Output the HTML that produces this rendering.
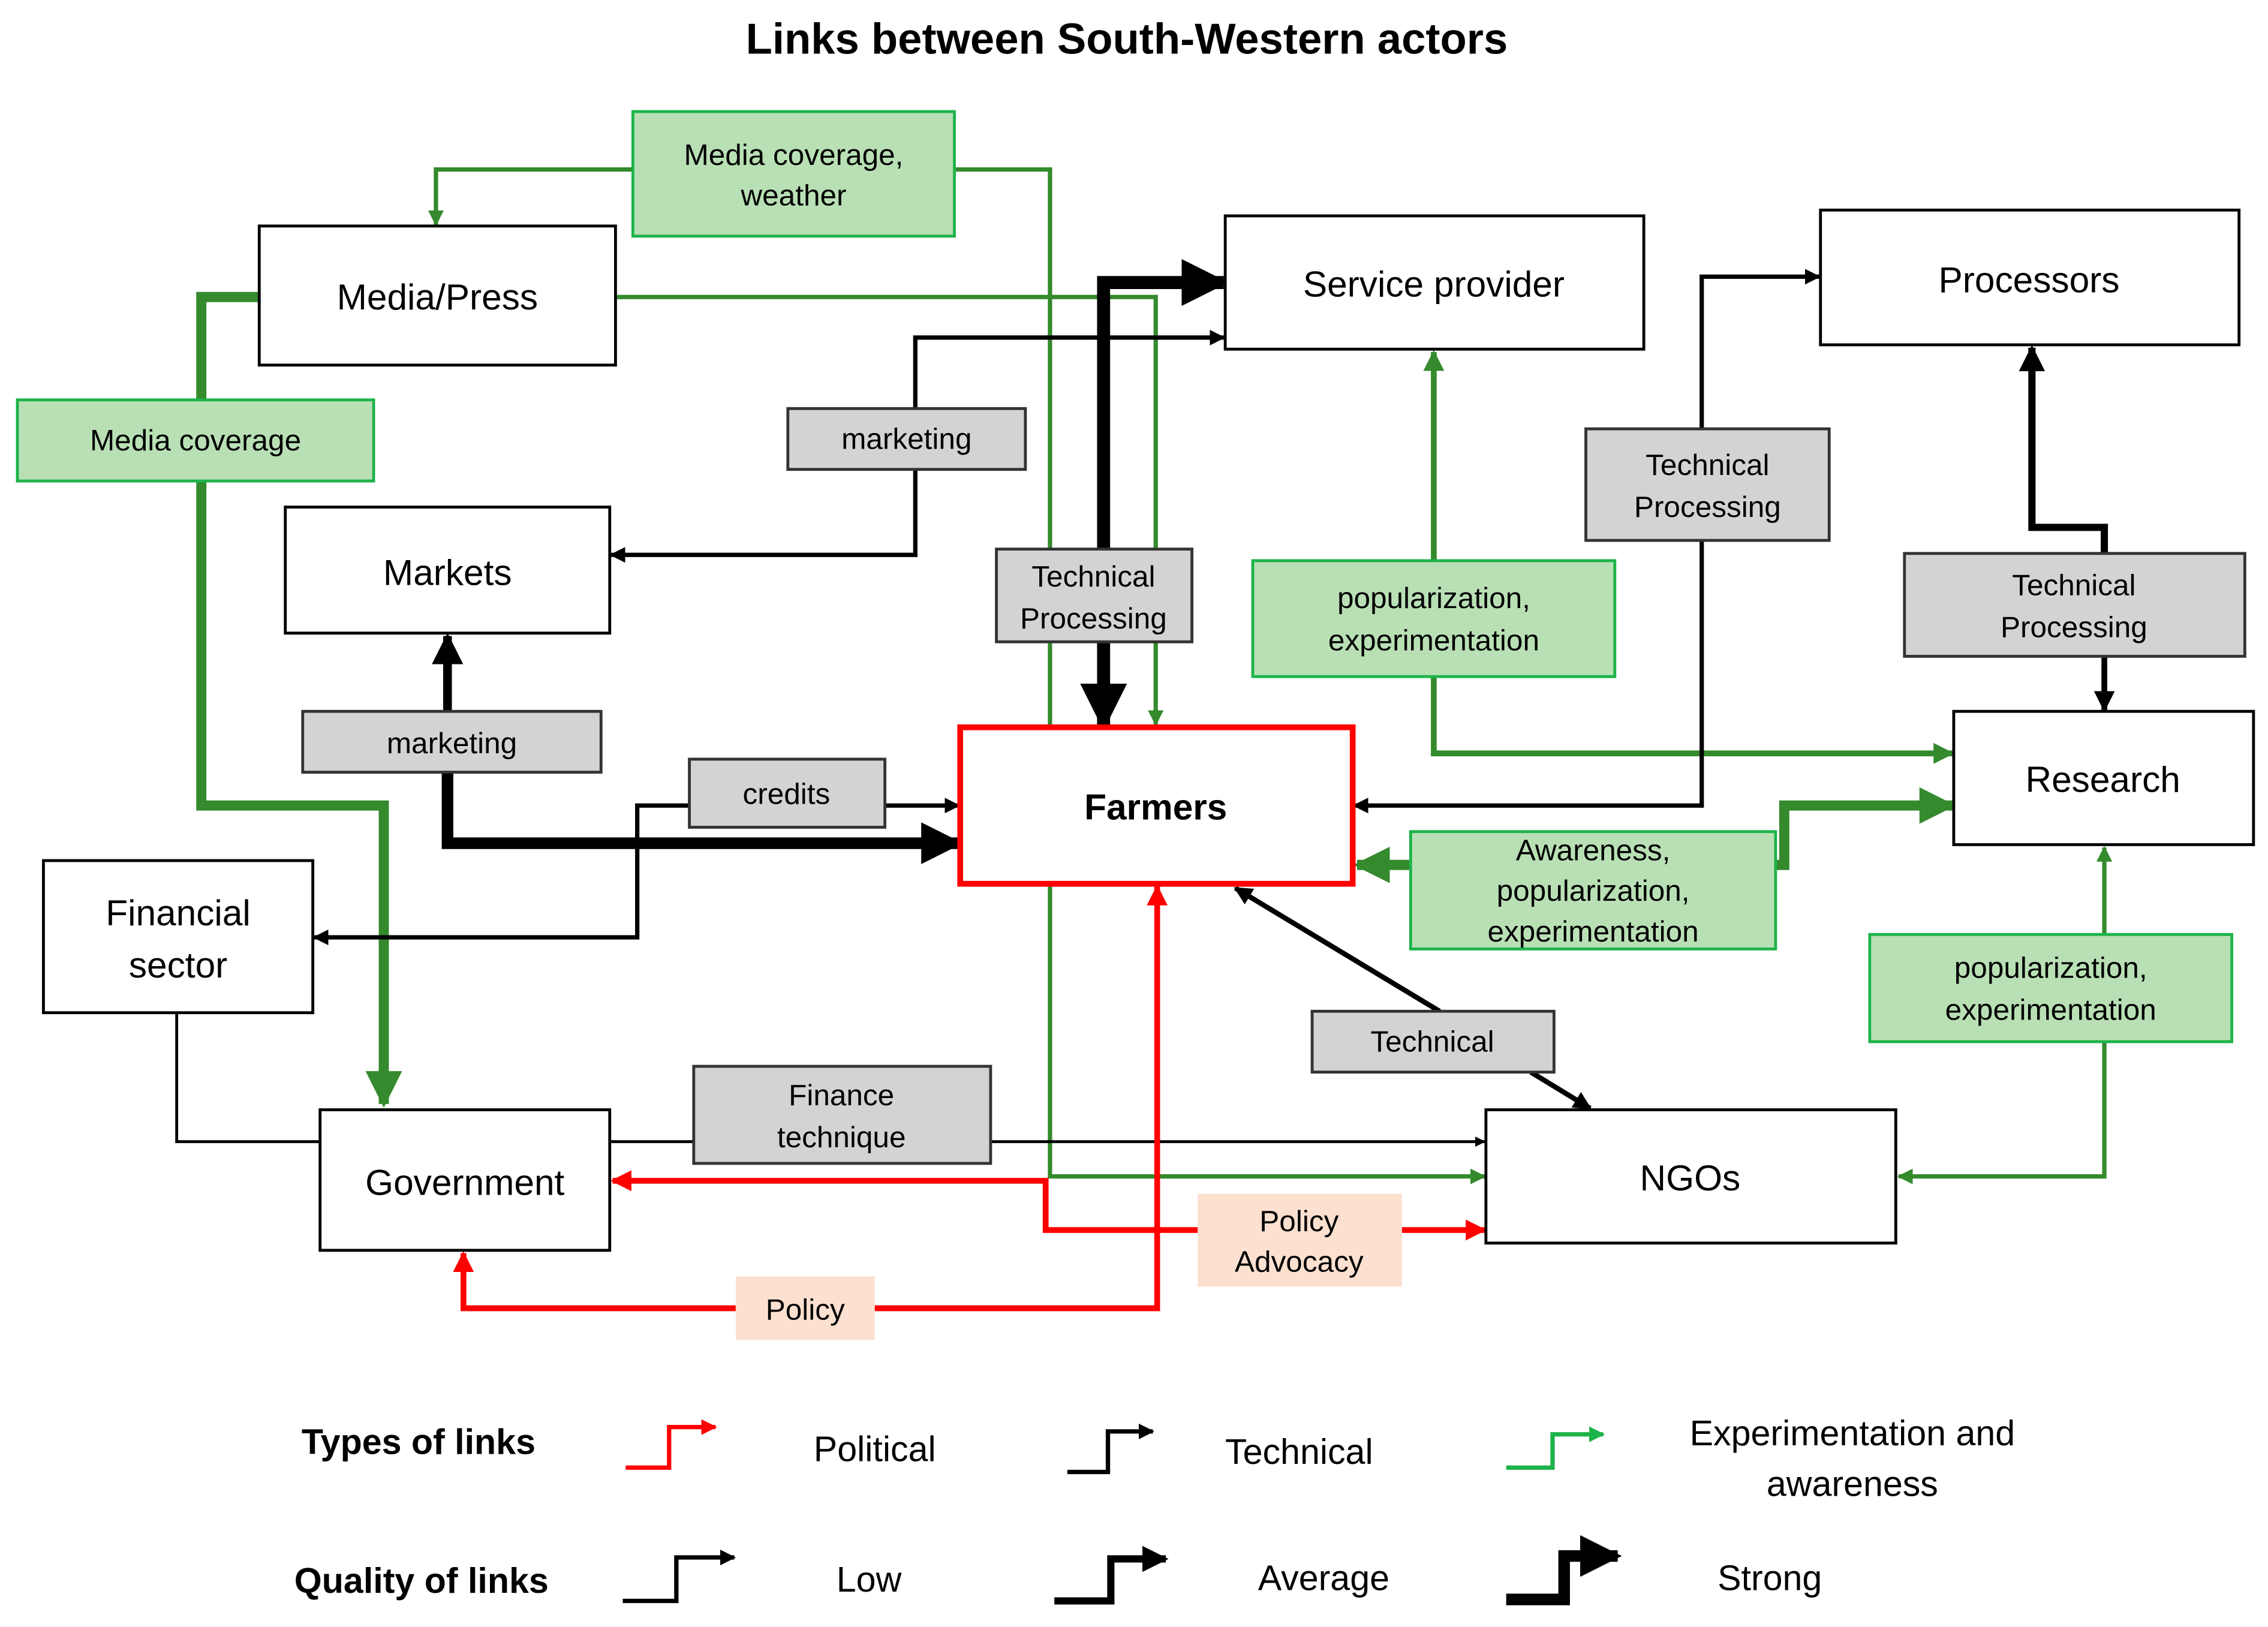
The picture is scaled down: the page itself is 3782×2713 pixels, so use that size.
<!DOCTYPE html>
<html><head><meta charset="utf-8"><style>
html,body{margin:0;padding:0;background:#fff}
svg{display:block}
text{font-family:"Liberation Sans",sans-serif;text-anchor:middle;dominant-baseline:central;fill:#000}
</style></head><body>
<svg width="3782" height="2713" viewBox="0 0 1566 1123" preserveAspectRatio="none" xmlns="http://www.w3.org/2000/svg">
<defs>
<marker id="ak" viewBox="0 0 10 10" refX="9" refY="5" markerWidth="3.6" markerHeight="3.6" orient="auto"><path d="M0,0L10,5L0,10z" fill="#000"/></marker>
<marker id="ar" viewBox="0 0 10 10" refX="9" refY="5" markerWidth="3.6" markerHeight="3.6" orient="auto"><path d="M0,0L10,5L0,10z" fill="#ff0000"/></marker>
<marker id="ag" viewBox="0 0 10 10" refX="9" refY="5" markerWidth="3.6" markerHeight="3.6" orient="auto"><path d="M0,0L10,5L0,10z" fill="#348a2c"/></marker>
<marker id="ag2" viewBox="0 0 10 10" refX="9" refY="5" markerWidth="3.6" markerHeight="3.6" orient="auto"><path d="M0,0L10,5L0,10z" fill="#1db34a"/></marker>
</defs>
<rect width="1566" height="1123" fill="#fff"/>
<text x="778" y="27" font-size="30" font-weight="bold">Links between South-Western actors</text>

<g fill="none" stroke-linejoin="miter">
<g stroke="#348a2c">
<polyline points="437,117 301,117 301,155" stroke-width="3" marker-end="url(#ag)"/>
<polyline points="659,117 725,117 725,812 1025,812" stroke-width="3" marker-end="url(#ag)"/>
<polyline points="425,205 798,205 798,500" stroke-width="3" marker-end="url(#ag)"/>
<polyline points="179,205 139,205 139,556 265,556 265,762" stroke-width="7" marker-end="url(#ag)"/>
<polyline points="990,467 990,520 1348,520" stroke-width="4" marker-end="url(#ag)"/>
<polyline points="990,387 990,243" stroke-width="4" marker-end="url(#ag)"/>
<polyline points="974,597 937,597" stroke-width="7" marker-end="url(#ag)"/>
<polyline points="1226,597 1232,597 1232,556 1348,556" stroke-width="7" marker-end="url(#ag)"/>
<polyline points="1453,645 1453,585" stroke-width="3" marker-end="url(#ag)"/>
<polyline points="1453,719 1453,812 1311,812" stroke-width="3" marker-end="url(#ag)"/>
</g>
<g stroke="#000">
<polyline points="762,379 762,195 845,195" stroke-width="9" marker-end="url(#ak)"/>
<polyline points="762,443 762,501" stroke-width="9" marker-end="url(#ak)"/>
<polyline points="632,282 632,233 845,233" stroke-width="3" marker-end="url(#ak)"/>
<polyline points="632,324 632,383 422,383" stroke-width="3" marker-end="url(#ak)"/>
<polyline points="1175,296 1175,191 1256,191" stroke-width="3" marker-end="url(#ak)"/>
<polyline points="1175,373 1175,556 935,556" stroke-width="3" marker-end="url(#ak)"/>
<polyline points="1453,382 1453,364 1403,364 1403,240" stroke-width="5" marker-end="url(#ak)"/>
<polyline points="1453,453 1453,490" stroke-width="4" marker-end="url(#ak)"/>
<polyline points="309,491 309,439" stroke-width="6" marker-end="url(#ak)"/>
<polyline points="309,533 309,582 662,582" stroke-width="8" marker-end="url(#ak)"/>
<polyline points="611,556 662,556" stroke-width="3" marker-end="url(#ak)"/>
<polyline points="476,556 440,556 440,647 217,647" stroke-width="3" marker-end="url(#ak)"/>
<polyline points="994,698 853,613" stroke-width="3.5" marker-end="url(#ak)"/>
<polyline points="1057,740 1098,765" stroke-width="3.5" marker-end="url(#ak)"/>
<polyline points="122,699 122,788 221,788" stroke-width="2"/>
<polyline points="421,788 479,788" stroke-width="2"/>
<polyline points="684,788 1025,788" stroke-width="2" marker-end="url(#ak)"/>
</g>
<g stroke="#ff0000" stroke-width="4">
<polyline points="968,849 1025,849" marker-end="url(#ar)"/>
<polyline points="827,849 722,849 722,815 423,815" marker-end="url(#ar)"/>
<polyline points="604,903 799,903 799,612" marker-end="url(#ar)"/>
<polyline points="508,903 320,903 320,865" marker-end="url(#ar)"/>
</g>
</g>

<g fill="#fff" stroke="#000" stroke-width="2">
<rect x="179" y="156" width="246" height="96"/>
<rect x="846" y="149" width="289" height="92"/>
<rect x="1257" y="145" width="289" height="93"/>
<rect x="197" y="350" width="224" height="87"/>
<rect x="30" y="594" width="186" height="105"/>
<rect x="221" y="766" width="200" height="97"/>
<rect x="1026" y="766" width="283" height="92"/>
<rect x="1349" y="491" width="207" height="92"/>
</g>
<rect x="663" y="502" width="271" height="108" fill="#fff" stroke="#ff0000" stroke-width="4"/>
<g font-size="25">
<text x="302" y="205">Media/Press</text>
<text x="990" y="196">Service provider</text>
<text x="1401" y="193">Processors</text>
<text x="309" y="395">Markets</text>
<text x="123" y="630">Financial</text>
<text x="123" y="666">sector</text>
<text x="321" y="816">Government</text>
<text x="1167" y="813">NGOs</text>
<text x="1452" y="538">Research</text>
<text x="798" y="557" font-weight="bold">Farmers</text>
</g>

<g fill="#b9e0b5" stroke="#1db34a" stroke-width="2">
<rect x="437" y="77" width="222" height="86"/>
<rect x="12" y="276" width="246" height="56"/>
<rect x="865" y="387" width="250" height="80"/>
<rect x="974" y="574" width="252" height="81"/>
<rect x="1291" y="645" width="250" height="74"/>
</g>
<g fill="#d3d3d3" stroke="#333" stroke-width="2">
<rect x="544" y="282" width="164" height="42"/>
<rect x="688" y="379" width="135" height="64"/>
<rect x="1095" y="296" width="168" height="77"/>
<rect x="1315" y="382" width="235" height="71"/>
<rect x="209" y="491" width="206" height="42"/>
<rect x="476" y="524" width="135" height="47"/>
<rect x="906" y="698" width="167" height="42"/>
<rect x="479" y="736" width="205" height="67"/>
</g>
<g fill="#fce0d0">
<rect x="827" y="824" width="141" height="64"/>
<rect x="508" y="881" width="96" height="44"/>
</g>
<g font-size="20.5">
<text x="548" y="107">Media coverage,</text><text x="548" y="135">weather</text>
<text x="135" y="304">Media coverage</text>
<text x="990" y="413">popularization,</text><text x="990" y="442">experimentation</text>
<text x="1100" y="587">Awareness,</text><text x="1100" y="615">popularization,</text><text x="1100" y="643">experimentation</text>
<text x="1416" y="668">popularization,</text><text x="1416" y="697">experimentation</text>
<text x="626" y="303">marketing</text>
<text x="755" y="398">Technical</text><text x="755" y="427">Processing</text>
<text x="1179" y="321">Technical</text><text x="1179" y="350">Processing</text>
<text x="1432" y="404">Technical</text><text x="1432" y="433">Processing</text>
<text x="312" y="513">marketing</text>
<text x="543" y="548">credits</text>
<text x="989" y="719">Technical</text>
<text x="581" y="756">Finance</text><text x="581" y="785">technique</text>
<text x="897" y="843">Policy</text><text x="897" y="871">Advocacy</text>
<text x="556" y="904">Policy</text>
</g>

<g font-size="24.5">
<text x="289" y="995" font-weight="bold">Types of links</text>
<text x="604" y="1000">Political</text>
<text x="897" y="1002">Technical</text>
<text x="1279" y="989">Experimentation and</text>
<text x="1279" y="1024">awareness</text>
<text x="291" y="1091" font-weight="bold">Quality of links</text>
<text x="600" y="1090">Low</text>
<text x="914" y="1089">Average</text>
<text x="1222" y="1089">Strong</text>
</g>
<g fill="none">
<polyline points="432,1013 462,1013 462,985 494,985" stroke="#ff0000" stroke-width="3" marker-end="url(#ar)"/>
<polyline points="737,1016 765,1016 765,988 796,988" stroke="#000" stroke-width="3" marker-end="url(#ak)"/>
<polyline points="1040,1013 1072,1013 1072,990 1107,990" stroke="#1db34a" stroke-width="3" marker-end="url(#ag2)"/>
<polyline points="430,1105 467,1105 467,1075 507,1075" stroke="#000" stroke-width="3" marker-end="url(#ak)"/>
<polyline points="728,1105 767,1105 767,1076 805,1076" stroke="#000" stroke-width="5" marker-end="url(#ak)"/>
<polyline points="1040,1104 1080,1104 1080,1074 1117,1074" stroke="#000" stroke-width="8" marker-end="url(#ak)"/>
</g>
</svg>
</body></html>
